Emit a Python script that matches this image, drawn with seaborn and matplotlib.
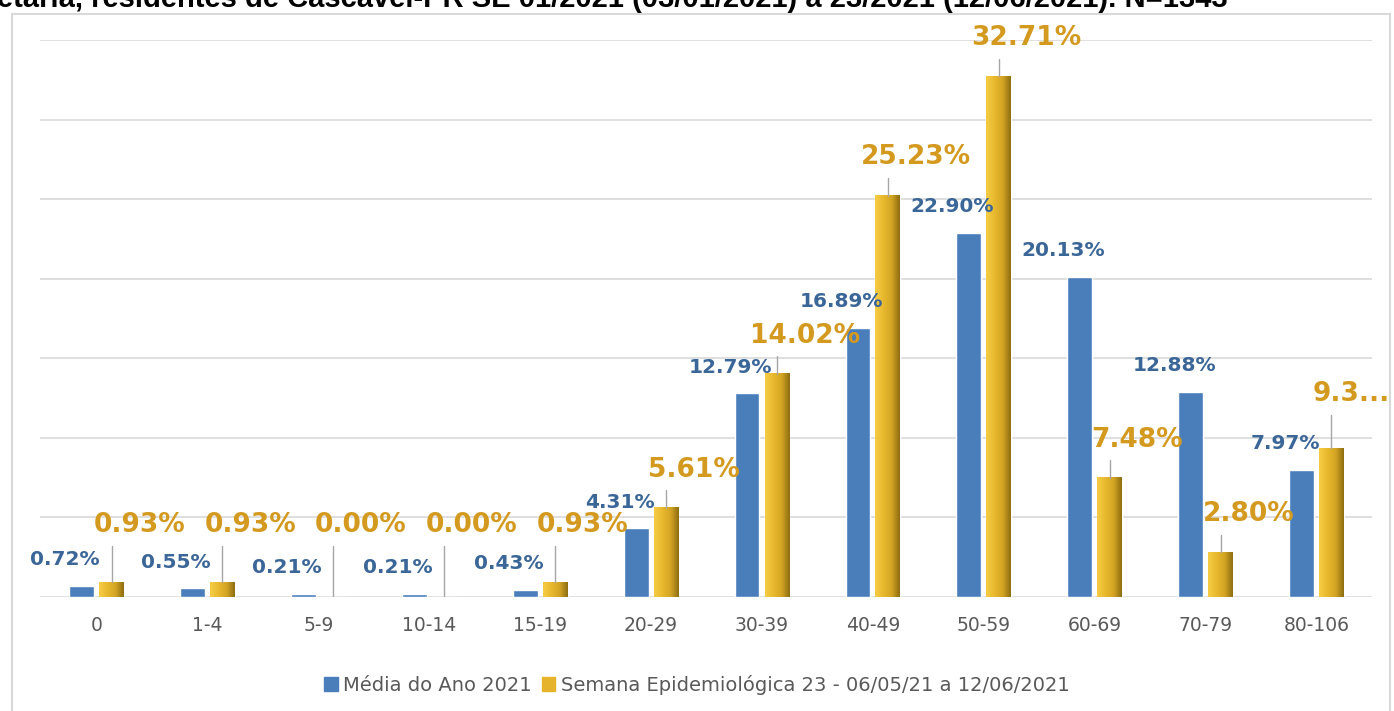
import numpy as np
import pandas as pd
import matplotlib
matplotlib.use("Agg")
import matplotlib.pyplot as plt
import matplotlib.patches as patches
import seaborn as sns
from matplotlib.colors import LinearSegmentedColormap

categories = ["0", "1-4", "5-9", "10-14", "15-19", "20-29", "30-39",
              "40-49", "50-59", "60-69", "70-79", "80-106"]
media_2021 = [0.72, 0.55, 0.21, 0.21, 0.43, 4.31, 12.79, 16.89, 22.90, 20.13, 12.88, 7.97]
semana_23 = [0.93, 0.93, 0.00, 0.00, 0.93, 5.61, 14.02, 25.23, 32.71, 7.48, 2.80, 9.35]
series_names = ["Média do Ano 2021", "Semana Epidemiológica 23 - 06/05/21 a 12/06/2021"]
title_text = ("etária, residentes de Cascavel-PR SE 01/2021 (03/01/2021) a 23/2021 "
              "(12/06/2021). N=1343")

BLUE = "#4A7EBB"
BLUE_TXT = "#3B6698"
GOLD = "#E5B42B"
GOLD_TXT = "#D49A20"
GRID = "#D9D9D9"
GREY_TXT = "#595959"

gold_cmap = LinearSegmentedColormap.from_list(
    "gold", ["#F6CC45", "#E8B92E", "#D4A523", "#8E6E12"])

df = pd.DataFrame({
    "grupo": categories * 2,
    "valor": media_2021 + semana_23,
    "serie": [series_names[0]] * len(categories) + [series_names[1]] * len(categories),
})

sns.set_theme(style="white")
plt.rcParams["font.family"] = ["DejaVu Sans"]

fig = plt.figure(figsize=(13.94, 7.11), dpi=100)
ax = fig.add_axes([0.0287, 0.1603, 0.9555, 0.7834])

sns.barplot(data=df, x="grupo", y="valor", hue="serie", hue_order=series_names,
            palette=[BLUE, GOLD], width=0.54, gap=0.17, ax=ax, legend=False,
            saturation=1, zorder=3)

# gradient fill on the gold bars
grad = np.linspace(0, 1, 64).reshape(1, -1)
for bar in ax.containers[1]:
    x, y = bar.get_x(), bar.get_y()
    w, h = bar.get_width(), bar.get_height()
    if h <= 0:
        continue
    ax.imshow(grad, extent=[x, x + w, y, y + h], aspect="auto",
              cmap=gold_cmap, zorder=3.5, interpolation="bicubic")

ax.set_xlim(-0.51, 11.5)
ax.set_ylim(0, 35)
ax.set_yticks(np.arange(0, 36, 5))
ax.set_yticklabels([])
ax.tick_params(axis="y", length=0)
ax.tick_params(axis="x", length=0, pad=14, labelsize=13.5, labelcolor=GREY_TXT)
ax.grid(axis="y", color=GRID, linewidth=1.2, zorder=0)
for s in ax.spines.values():
    s.set_visible(False)
ax.set_xlabel("")
ax.set_ylabel("")

# data labels
for bar, v in zip(ax.containers[0], media_2021):
    cx = bar.get_x() + bar.get_width() / 2
    ax.text(cx - 0.15, v + 1.65, f"{v:.2f}%", ha="center", va="center",
            fontsize=14.5, fontweight="bold", color=BLUE_TXT, zorder=5)

gold_labels = [f"{v:.2f}%" for v in semana_23]
gold_labels[-1] = gold_labels[-1][:3] + "..."
for i, (bar, v) in enumerate(zip(ax.containers[1], semana_23)):
    cx = bar.get_x() + bar.get_width() / 2
    ly = max(v + 2.4, 4.5)
    dx = 0.25
    if i == len(semana_23) - 1:
        ly = v + 3.4
        dx = 0.18
    ax.plot([cx, cx], [v, ly - 1.3], color="#A6A6A6", linewidth=1, zorder=4)
    ax.text(cx + dx, ly, gold_labels[i], ha="center", va="center",
            fontsize=19, fontweight="bold", color=GOLD_TXT, zorder=5)

# title (cut at the top edge like the original)
fig.text(-0.002, 1 - 7 / 711, title_text, ha="left", va="baseline",
         fontsize=21, fontweight="bold", color="black",
         fontfamily=["Liberation Sans", "DejaVu Sans"])

# chart frame
fig.patches.append(patches.Rectangle((12 / 1394, -0.01), 1378 / 1394, 1 - 14 / 711 + 0.01,
                                     transform=fig.transFigure, fill=False,
                                     edgecolor=GRID, linewidth=1.5))

handles = [patches.Patch(color=BLUE), patches.Patch(color=GOLD)]
leg = fig.legend(handles, series_names, loc="center", ncol=2,
                 bbox_to_anchor=(0.5, 1 - 685 / 711), frameon=False,
                 handlelength=0.7, handleheight=0.7, handletextpad=0.3,
                 columnspacing=0.5, prop={"size": 14})
for t in leg.get_texts():
    t.set_color(GREY_TXT)

fig.savefig("out.png", dpi=100)
